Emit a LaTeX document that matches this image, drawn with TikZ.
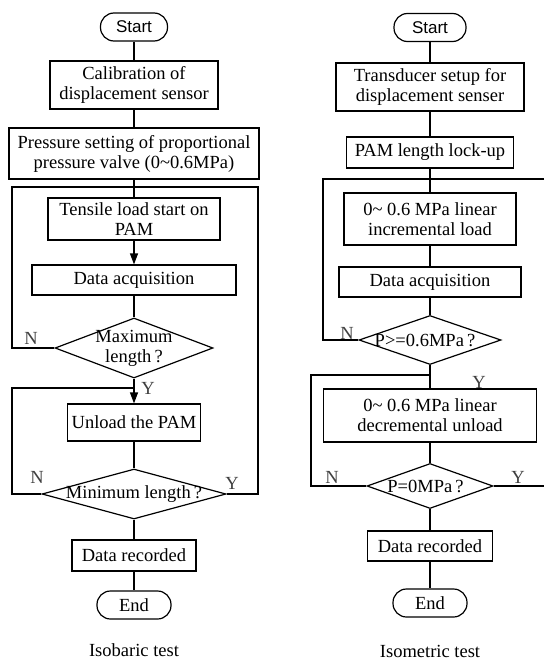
\documentclass[tikz,border=0pt]{standalone}
\usepackage{fontspec}
\setmainfont{Liberation Serif}
\newfontfamily\termfont{Liberation Sans}
\usetikzlibrary{shapes.geometric,arrows.meta}
\tikzset{
  every picture/.style={x=1pt,y=-1pt},
  txt/.style={font=\fontsize{18.5}{20}\selectfont, inner sep=0pt, align=center},
  stepbox/.style={draw, line width=1.2pt, inner sep=0pt, align=center, font=\fontsize{18.5}{20}\selectfont},
  term/.style={draw, line width=1.2pt, rounded corners=13.5pt, inner sep=0pt, minimum height=28pt},
  dia/.style={draw, diamond, line width=1.2pt, inner sep=0pt},
  conn/.style={line width=1.2pt},
  arr/.style={line width=1.2pt, -{Triangle[length=11pt,width=8pt]}},
  yn/.style={font=\fontsize{18.5}{20}\selectfont, inner sep=0pt, text=black!75},
}
\begin{document}
\begin{tikzpicture}
\useasboundingbox (0,0) rectangle (544,661);
% ---------------- Left: Isobaric test ----------------
\node[term, minimum width=67pt, font=\termfont\fontsize{17}{18}\selectfont] (ls) at (134,27) {Start};
\node[stepbox, minimum width=168pt, minimum height=48pt] (lcal) at (134,85) {Calibration of\\displacement sensor};
\node[stepbox, minimum width=250pt, minimum height=51pt] (lpre) at (134,153.5) {Pressure setting of proportional\\pressure valve (0\textasciitilde0.6MPa)};
\node[stepbox, minimum width=172pt, minimum height=42pt] (lten) at (134,219) {Tensile load start on\\PAM};
\node[stepbox, minimum width=204pt, minimum height=30pt] (lacq) at (134,280) {Data acquisition};
\node[dia, minimum width=158pt, minimum height=60pt] (lmax) at (134,348) {};
\node[txt] at (lmax) {Maximum\\length\,?};
\node[stepbox, minimum width=133pt, minimum height=37pt] (lunl) at (134,422.5) {Unload the PAM};
\node[dia, minimum width=184pt, minimum height=50pt] (lmin) at (134,494) {};
\node[txt] at (lmin) {Minimum length\,?};
\node[stepbox, minimum width=124pt, minimum height=31pt] (lrec) at (134,555.5) {Data recorded};
\node[term, minimum width=74pt, font=\fontsize{18.5}{20}\selectfont] (lend) at (134,605) {End};
\node[txt] (lcap) at (134,650) {Isobaric test};

\coordinate (lo1) at (258,494);
\coordinate (lo2) at (258,187);
\coordinate (lo3) at (12,187);
\coordinate (lo4) at (12,348);
\coordinate (li1) at (12,494);
\coordinate (li2) at (12,388);
\coordinate (li3) at (134,388);

\draw[conn] (ls) -- (lcal);
\draw[conn] (lcal) -- (lpre);
\draw[conn] (lpre) -- (lten);
\draw[arr] (lten) -- (lacq);
\draw[conn] (lacq) -- (lmax);
\draw[arr] (lmax.south) -- (lunl.north);
\draw[conn] (lunl) -- (lmin.north);
\draw[conn] (lmin.south) -- (lrec);
\draw[conn] (lrec) -- (lend);
\draw[conn] (lmin.east) -- (lo1) -- (lo2) -- (lo3) -- (lo4) -- (lmax.west);
\draw[conn] (lmin.west) -- (li1) -- (li2) -- (li3);

\node[yn] at (31,338) {N};
\node[yn] at (148,388) {Y};
\node[yn] at (37,477) {N};
\node[yn] at (232,483) {Y};

% ---------------- Right: Isometric test ----------------
\node[term, minimum width=72pt, font=\termfont\fontsize{17}{18}\selectfont] (rs) at (430,27.5) {Start};
\node[stepbox, minimum width=188pt, minimum height=48pt] (rtr) at (430,87) {Transducer setup for\\displacement senser};
\node[stepbox, minimum width=167pt, minimum height=31pt] (rlock) at (430,152.5) {PAM length lock-up};
\node[stepbox, minimum width=172pt, minimum height=52pt] (rinc) at (430,219) {0\textasciitilde\ 0.6 MPa linear\\incremental load};
\node[stepbox, minimum width=182pt, minimum height=30pt] (racq) at (430,282) {Data acquisition};
\node[dia, minimum width=142pt, minimum height=49pt] (rp1) at (430,340) {};
\node[txt] at (425,340) {P>=0.6MPa\,?};
\node[stepbox, minimum width=213pt, minimum height=53pt] (rdec) at (430,415.5) {0\textasciitilde\ 0.6 MPa linear\\decremental unload};
\node[dia, minimum width=126pt, minimum height=45pt] (rp0) at (430,486) {};
\node[txt] at (425.5,486) {P=0MPa\,?};
\node[stepbox, minimum width=125pt, minimum height=30pt] (rrec) at (430,546) {Data recorded};
\node[term, minimum width=74pt, font=\fontsize{18.5}{20}\selectfont] (rend) at (430,603) {End};
\node[txt] (rcap) at (430,651) {Isometric test};

\coordinate (ro1) at (544,486);
\coordinate (ro2) at (544,179);
\coordinate (ro3) at (323,179);
\coordinate (ro4) at (323,340);
\coordinate (ri1) at (311,486);
\coordinate (ri2) at (311,375);
\coordinate (ri3) at (430,375);

\draw[conn] (rs) -- (rtr);
\draw[conn] (rtr) -- (rlock);
\draw[conn] (rlock) -- (rinc);
\draw[conn] (rinc) -- (racq);
\draw[conn] (racq) -- (rp1.north);
\draw[conn] (rp1.south) -- (rdec.north);
\draw[conn] (rdec) -- (rp0.north);
\draw[conn] (rp0.south) -- (rrec);
\draw[conn] (rrec) -- (rend);
\draw[conn] (ro2) -- (ro3) -- (ro4) -- (rp1.west);
\draw[conn] (rp0.east) -- (ro1);
\draw[conn] (rp0.west) -- (ri1) -- (ri2) -- (ri3);

\node[yn] at (347,333) {N};
\node[yn] at (479,382) {Y};
\node[yn] at (332,477) {N};
\node[yn] at (518,477) {Y};
\end{tikzpicture}
\end{document}
